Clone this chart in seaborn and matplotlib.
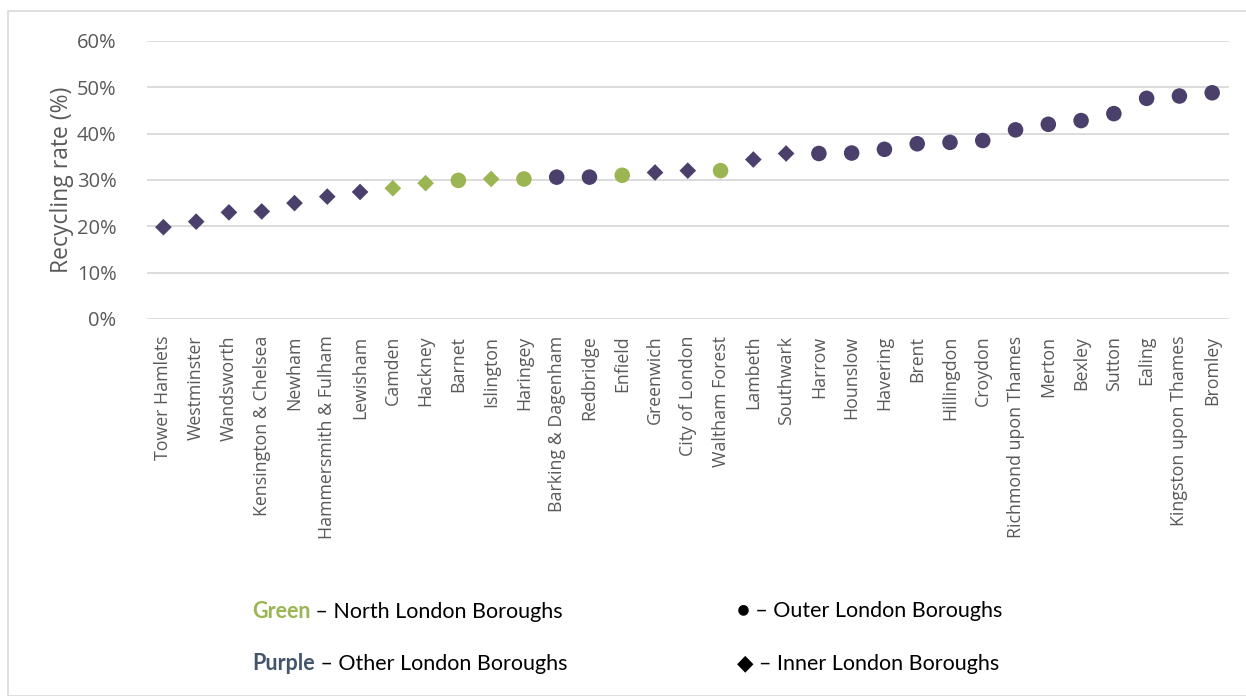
import matplotlib
matplotlib.use('Agg')
import matplotlib.pyplot as plt
import matplotlib.patches as mpatches
from matplotlib.ticker import PercentFormatter, MultipleLocator
import pandas as pd
import seaborn as sns

# Borough recycling rates, lowest to highest
boroughs = [
    'Tower Hamlets', 'Westminster', 'Wandsworth', 'Kensington & Chelsea', 'Newham',
    'Hammersmith & Fulham', 'Lewisham', 'Camden', 'Hackney', 'Barnet', 'Islington',
    'Haringey', 'Barking & Dagenham', 'Redbridge', 'Enfield', 'Greenwich',
    'City of London', 'Waltham Forest', 'Lambeth', 'Southwark', 'Harrow', 'Hounslow',
    'Havering', 'Brent', 'Hillingdon', 'Croydon', 'Richmond upon Thames', 'Merton',
    'Bexley', 'Sutton', 'Ealing', 'Kingston upon Thames', 'Bromley',
]
rates = [
    0.198, 0.210, 0.230, 0.232, 0.250, 0.264, 0.274, 0.282, 0.293, 0.299, 0.302,
    0.302, 0.306, 0.306, 0.310, 0.316, 0.320, 0.320, 0.344, 0.357, 0.357, 0.358,
    0.366, 0.378, 0.381, 0.385, 0.408, 0.420, 0.428, 0.443, 0.476, 0.481, 0.488,
]
# N = North London Borough (green), O = other (purple)
groups = list('OOOOOOONNNNNOONOONOOOOOOOOOOOOOOO')
# I = inner (diamond), U = outer (circle)
area_types = list('IIIIIIIIIUIUUUUIIUIIUUUUUUUUUUUUU')

GREEN = '#9BB552'
PURPLE = '#4B3F6B'
GREY = '#595959'

df = pd.DataFrame({
    'borough': boroughs,
    'rate': rates,
    'group': ['North' if g == 'N' else 'Other' for g in groups],
    'area': ['Inner' if a == 'I' else 'Outer' for a in area_types],
})

sns.set_theme(style='white')
plt.rcParams['font.family'] = ['Open Sans', 'DejaVu Sans']

fig = plt.figure(figsize=(12.46, 6.96), dpi=100)
ax = fig.add_axes([0.118, 0.5417, 0.868, 0.3996])

sns.scatterplot(
    data=df, x='borough', y='rate', hue='group', style='area', size='area',
    palette={'North': GREEN, 'Other': PURPLE},
    markers={'Outer': 'o', 'Inner': 'D'},
    sizes={'Outer': 125, 'Inner': 72},
    linewidth=0, legend=False, zorder=3, ax=ax,
)

ax.set_ylim(0, 0.6)
ax.set_xlim(-0.5, len(boroughs) - 0.5)
ax.yaxis.set_major_locator(MultipleLocator(0.1))
ax.yaxis.set_major_formatter(PercentFormatter(1.0, decimals=0))
ax.grid(axis='y', color='#D9D9D9', linewidth=1.3)
ax.set_axisbelow(True)
for sp in ax.spines.values():
    sp.set_visible(False)
ax.tick_params(axis='both', length=0, colors=GREY)
ax.tick_params(axis='y', labelsize=14.5, pad=22)
ax.tick_params(axis='x', labelsize=12.8, pad=12)
plt.setp(ax.get_xticklabels(), rotation=90)
ax.set_xlabel('')
ax.set_ylabel('Recycling rate (%)', fontsize=16.5, color=GREY, labelpad=2)

# legend written as text lines, like the original key
leg_font = ['Lato', 'DejaVu Sans']
LEG_FS = 15.5
t1 = fig.text(252 / 1246, 1 - 611 / 696, 'Green', color=GREEN, fontweight='bold',
              fontsize=LEG_FS, va='center', family=leg_font)
ax.annotate(' \u2013 North London Boroughs', xy=(1, 0), xycoords=t1, va='bottom',
            fontsize=LEG_FS, color='black', family=leg_font, annotation_clip=False)
t2 = fig.text(252 / 1246, 1 - 664 / 696, 'Purple', color='#44546A', fontweight='bold',
              fontsize=LEG_FS, va='center', family=leg_font)
ax.annotate(' \u2013 Other London Boroughs', xy=(1, 0), xycoords=t2, va='bottom',
            fontsize=LEG_FS, color='black', family=leg_font, annotation_clip=False)
fig.text(737 / 1246, 1 - 611 / 696, '\u25cf \u2013 Outer London Boroughs', color='black',
         fontsize=LEG_FS, va='center', family=leg_font)
fig.text(737 / 1246, 1 - 664 / 696, '\u25c6 \u2013 Inner London Boroughs', color='black',
         fontsize=LEG_FS, va='center', family=leg_font)

# light chart-area border
fig.patches.append(mpatches.Rectangle((8 / 1246, 0.0), 1.0, 1 - 11 / 696,
                                      transform=fig.transFigure, fill=False,
                                      edgecolor='#D9D9D9', linewidth=1.2))

fig.savefig('out.png', dpi=100)
